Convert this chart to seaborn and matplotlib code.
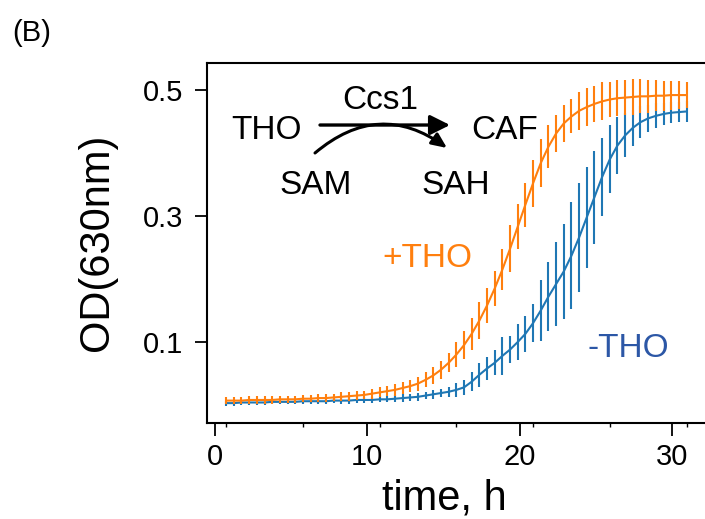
import numpy as np
import pandas as pd
import matplotlib
matplotlib.use("Agg")
import matplotlib.pyplot as plt
import seaborn as sns

# ---------------- data ----------------
time_h = np.round(np.linspace(0.75, 30.95, 61), 3)

od_plus = [0.007, 0.007, 0.007, 0.008, 0.008, 0.008, 0.008, 0.009, 0.009, 0.009, 0.010,
           0.010, 0.011, 0.011, 0.012, 0.013, 0.014, 0.015, 0.016, 0.018, 0.020,
           0.022, 0.024, 0.027, 0.030, 0.034, 0.040, 0.047, 0.056, 0.067, 0.080,
           0.095, 0.113, 0.134, 0.158, 0.185, 0.215, 0.248, 0.283, 0.318, 0.352,
           0.384, 0.410, 0.431, 0.447, 0.458, 0.467, 0.473, 0.478, 0.482, 0.485,
           0.487, 0.488, 0.489, 0.490, 0.490, 0.491, 0.491, 0.492, 0.492, 0.492]
sd_plus = [0.006, 0.006, 0.006, 0.006, 0.006, 0.006, 0.006, 0.006, 0.006, 0.006, 0.006,
           0.006, 0.006, 0.006, 0.006, 0.007, 0.007, 0.007, 0.007, 0.008, 0.008,
           0.008, 0.009, 0.009, 0.010, 0.011, 0.012, 0.013, 0.014, 0.015, 0.020,
           0.022, 0.025, 0.030, 0.028, 0.028, 0.033, 0.037, 0.036, 0.035, 0.037,
           0.038, 0.034, 0.030, 0.029, 0.027, 0.030, 0.030, 0.028, 0.030, 0.028,
           0.029, 0.028, 0.028, 0.027, 0.026, 0.025, 0.024, 0.023, 0.022, 0.021]

od_minus = [0.003, 0.003, 0.004, 0.004, 0.004, 0.004, 0.005, 0.005, 0.005, 0.005, 0.006,
            0.006, 0.006, 0.006, 0.007, 0.007, 0.007, 0.008, 0.008, 0.008, 0.009,
            0.009, 0.010, 0.011, 0.012, 0.013, 0.015, 0.017, 0.019, 0.021, 0.024,
            0.028, 0.037, 0.048, 0.058, 0.067, 0.078, 0.088, 0.100, 0.113, 0.130,
            0.150, 0.172, 0.192, 0.212, 0.237, 0.266, 0.298, 0.330, 0.362, 0.390,
            0.412, 0.428, 0.440, 0.449, 0.455, 0.459, 0.462, 0.464, 0.465, 0.466]
sd_minus = [0.004, 0.004, 0.004, 0.004, 0.004, 0.004, 0.004, 0.004, 0.004, 0.004, 0.004,
            0.004, 0.004, 0.004, 0.004, 0.005, 0.005, 0.005, 0.005, 0.005, 0.005,
            0.005, 0.006, 0.006, 0.006, 0.006, 0.006, 0.007, 0.007, 0.008, 0.011,
            0.012, 0.015, 0.019, 0.018, 0.020, 0.030, 0.022, 0.028, 0.029, 0.030,
            0.049, 0.055, 0.066, 0.075, 0.085, 0.086, 0.080, 0.074, 0.062, 0.054,
            0.045, 0.035, 0.029, 0.025, 0.021, 0.020, 0.018, 0.017, 0.016, 0.016]

conditions = ["-THO", "+THO"]
x_ticks = [0, 10, 20, 30]
y_ticks = [0.1, 0.3, 0.5]
y_tick_labels = ["0.1", "0.3", "0.5"]

line_colors = {"+THO": "#ff7f0e", "-THO": "#1f77b4"}
label_colors = {"+THO": "#ff7f0e", "-THO": "#2c57a6"}

df = pd.concat([
    pd.DataFrame({"time": time_h, "od": od_minus, "sd": sd_minus, "condition": "-THO"}),
    pd.DataFrame({"time": time_h, "od": od_plus, "sd": sd_plus, "condition": "+THO"}),
], ignore_index=True)

# ---------------- style ----------------
sns.set_theme(style="ticks")
plt.rcParams["font.family"] = ["Liberation Sans", "DejaVu Sans"]
plt.rcParams["axes.edgecolor"] = "black"

fig = plt.figure(figsize=(7.05, 5.19), dpi=100)
# right edge of the axes lies outside the picture (no right spine visible)
ax_left, ax_right_px = 207 / 705, 712
ax = fig.add_axes([ax_left, 0.1859, (ax_right_px - 207) / 705, 0.6927])

for z, cond in enumerate(conditions):
    sub = df[df["condition"] == cond]
    sns.lineplot(data=sub, x="time", y="od", color=line_colors[cond],
                 linewidth=1.5, errorbar=None, legend=False, ax=ax, zorder=2 + z)
    ax.errorbar(sub["time"], sub["od"], yerr=sub["sd"], fmt="none",
                ecolor=line_colors[cond], elinewidth=1.5, capsize=0, zorder=2 + z)

ax.set_xlim(-0.505, 32.62)
ax.set_ylim(-0.0278, 0.5429)
ax.set_xticks(x_ticks)
ax.set_xticks(time_h[::10], minor=True)
ax.set_yticks(y_ticks)
ax.set_yticklabels(y_tick_labels)
ax.tick_params(axis="both", which="major", length=9, width=1.3, labelsize=21,
               pad=6, color="black", labelcolor="black")
ax.tick_params(axis="y", which="major", pad=8)
ax.tick_params(axis="x", which="minor", length=3, width=1.0, color="black")
for sp in ax.spines.values():
    sp.set_linewidth(1.5)
    sp.set_color("black")
ax.spines["right"].set_visible(False)

W = ax_right_px - 207  # axes width in px
ax.set_xlabel("time, h", fontsize=30, color="black")
ax.set_ylabel("OD(630nm)", fontsize=30, color="black")
ax.xaxis.set_label_coords((444 - 207) / W, -0.155)
ax.yaxis.set_label_coords((117 - 207) / W, 0.5)


def fx(px):
    return (px - 207) / W


# reaction scheme
fs = 24
ax.text(fx(267), 0.7886, "THO", transform=ax.transAxes, ha="center", va="baseline", fontsize=fs, color="black")
ax.text(fx(380), 0.872, "Ccs1", transform=ax.transAxes, ha="center", va="baseline", fontsize=fs, color="black")
ax.text(fx(504.5), 0.7886, "CAF", transform=ax.transAxes, ha="center", va="baseline", fontsize=fs, color="black")
ax.text(fx(316), 0.6356, "SAM", transform=ax.transAxes, ha="center", va="baseline", fontsize=fs, color="black")
ax.text(fx(455.5), 0.6356, "SAH", transform=ax.transAxes, ha="center", va="baseline", fontsize=fs, color="black")
ax.annotate("", xy=(fx(450), 0.8275), xytext=(fx(320), 0.8275),
            xycoords="axes fraction", textcoords="axes fraction",
            arrowprops=dict(arrowstyle="-|>,head_length=0.6,head_width=0.3",
                            mutation_scale=20, lw=2.4, color="black",
                            shrinkA=0, shrinkB=0))
ax.annotate("", xy=(fx(447), 0.7636), xytext=(fx(315), 0.7497),
            xycoords="axes fraction", textcoords="axes fraction",
            arrowprops=dict(arrowstyle="-|>,head_length=0.45,head_width=0.2",
                            mutation_scale=20, lw=2.2, color="black",
                            shrinkA=0, shrinkB=0,
                            connectionstyle="arc3,rad=-0.39"))

# series labels
ax.text(fx(427), 0.4312, "+THO", transform=ax.transAxes, ha="center", va="baseline",
        fontsize=fs, color=label_colors["+THO"])
ax.text(fx(628.5), 0.1822, "-THO", transform=ax.transAxes, ha="center", va="baseline",
        fontsize=fs, color=label_colors["-THO"])

fig.text(12 / 705, 1 - 19 / 519, "(B)", ha="left", va="top", fontsize=21, color="black")

fig.savefig("out.png", dpi=100)
